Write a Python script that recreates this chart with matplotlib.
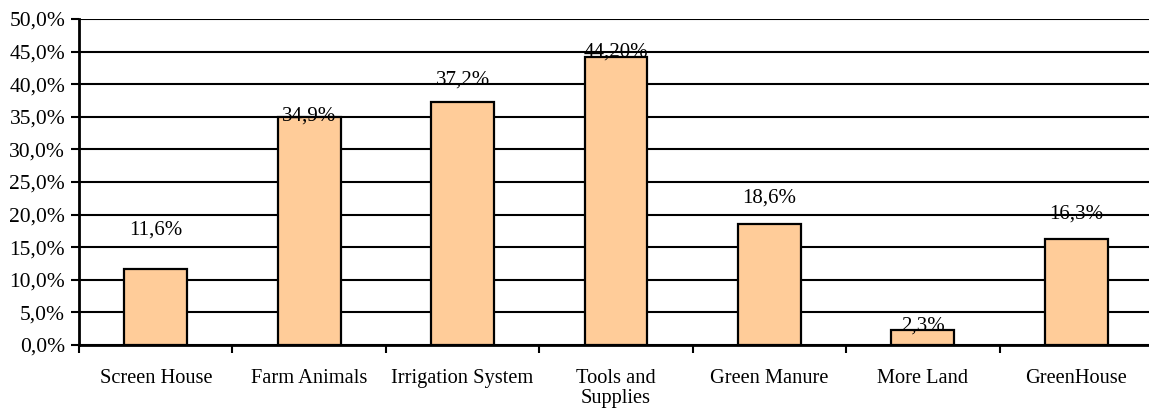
import matplotlib
matplotlib.use("Agg")
import matplotlib.pyplot as plt
from matplotlib.ticker import FixedLocator, FuncFormatter

categories = ["Screen House", "Farm Animals", "Irrigation System", "Tools and\nSupplies",
              "Green Manure", "More Land", "GreenHouse"]
values = [11.6, 34.9, 37.2, 44.2, 18.6, 2.3, 16.3]
value_labels = ["11,6%", "34,9%", "37,2%", "44,20%", "18,6%", "2,3%", "16,3%"]
# vertical position of each value label (in % units)
label_y = [17.6, 35.1, 40.6, 45.0, 22.5, 2.9, 20.1]

plt.rcParams["font.family"] = ["Liberation Serif", "DejaVu Serif"]
plt.rcParams["font.size"] = 15

fig = plt.figure(figsize=(11.49, 4.12), dpi=100)
ax = fig.add_axes([0.0688, 0.1626, 0.9347, 0.7913])

x = list(range(len(categories)))
ax.bar(x, values, width=0.41, color="#FFCC99", edgecolor="black", linewidth=1.6, zorder=3)

for xi, txt, ly in zip(x, value_labels, label_y):
    ax.text(xi, ly, txt, ha="center", va="center", fontsize=15, zorder=4)

ax.set_xlim(-0.5, len(categories) - 0.5)
ax.set_ylim(0, 50)
ax.yaxis.set_major_locator(FixedLocator([i * 5 for i in range(11)]))
ax.yaxis.set_major_formatter(FuncFormatter(lambda v, p: f"{v:.1f}%".replace(".", ",")))
ax.tick_params(axis="y", labelsize=15.5)
ax.grid(axis="y", color="black", linewidth=1.5, zorder=1)
ax.set_axisbelow(True)

ax.set_xticks([i - 0.5 for i in range(len(categories) + 1)])
ax.set_xticklabels([])
ax.set_xticks(x, minor=True)
ax.set_xticklabels(categories, minor=True, fontsize=14.7, linespacing=1.1)
ax.tick_params(axis="x", which="minor", length=0, pad=17)
ax.tick_params(axis="x", which="major", length=6, width=1.5, direction="out")
ax.tick_params(axis="y", length=6, width=1.5, direction="out", pad=4)

for side in ("top", "right"):
    ax.spines[side].set_visible(False)
for side in ("left", "bottom"):
    ax.spines[side].set_linewidth(2.0)
    ax.spines[side].set_zorder(5)

fig.savefig("out.png", dpi=100)
